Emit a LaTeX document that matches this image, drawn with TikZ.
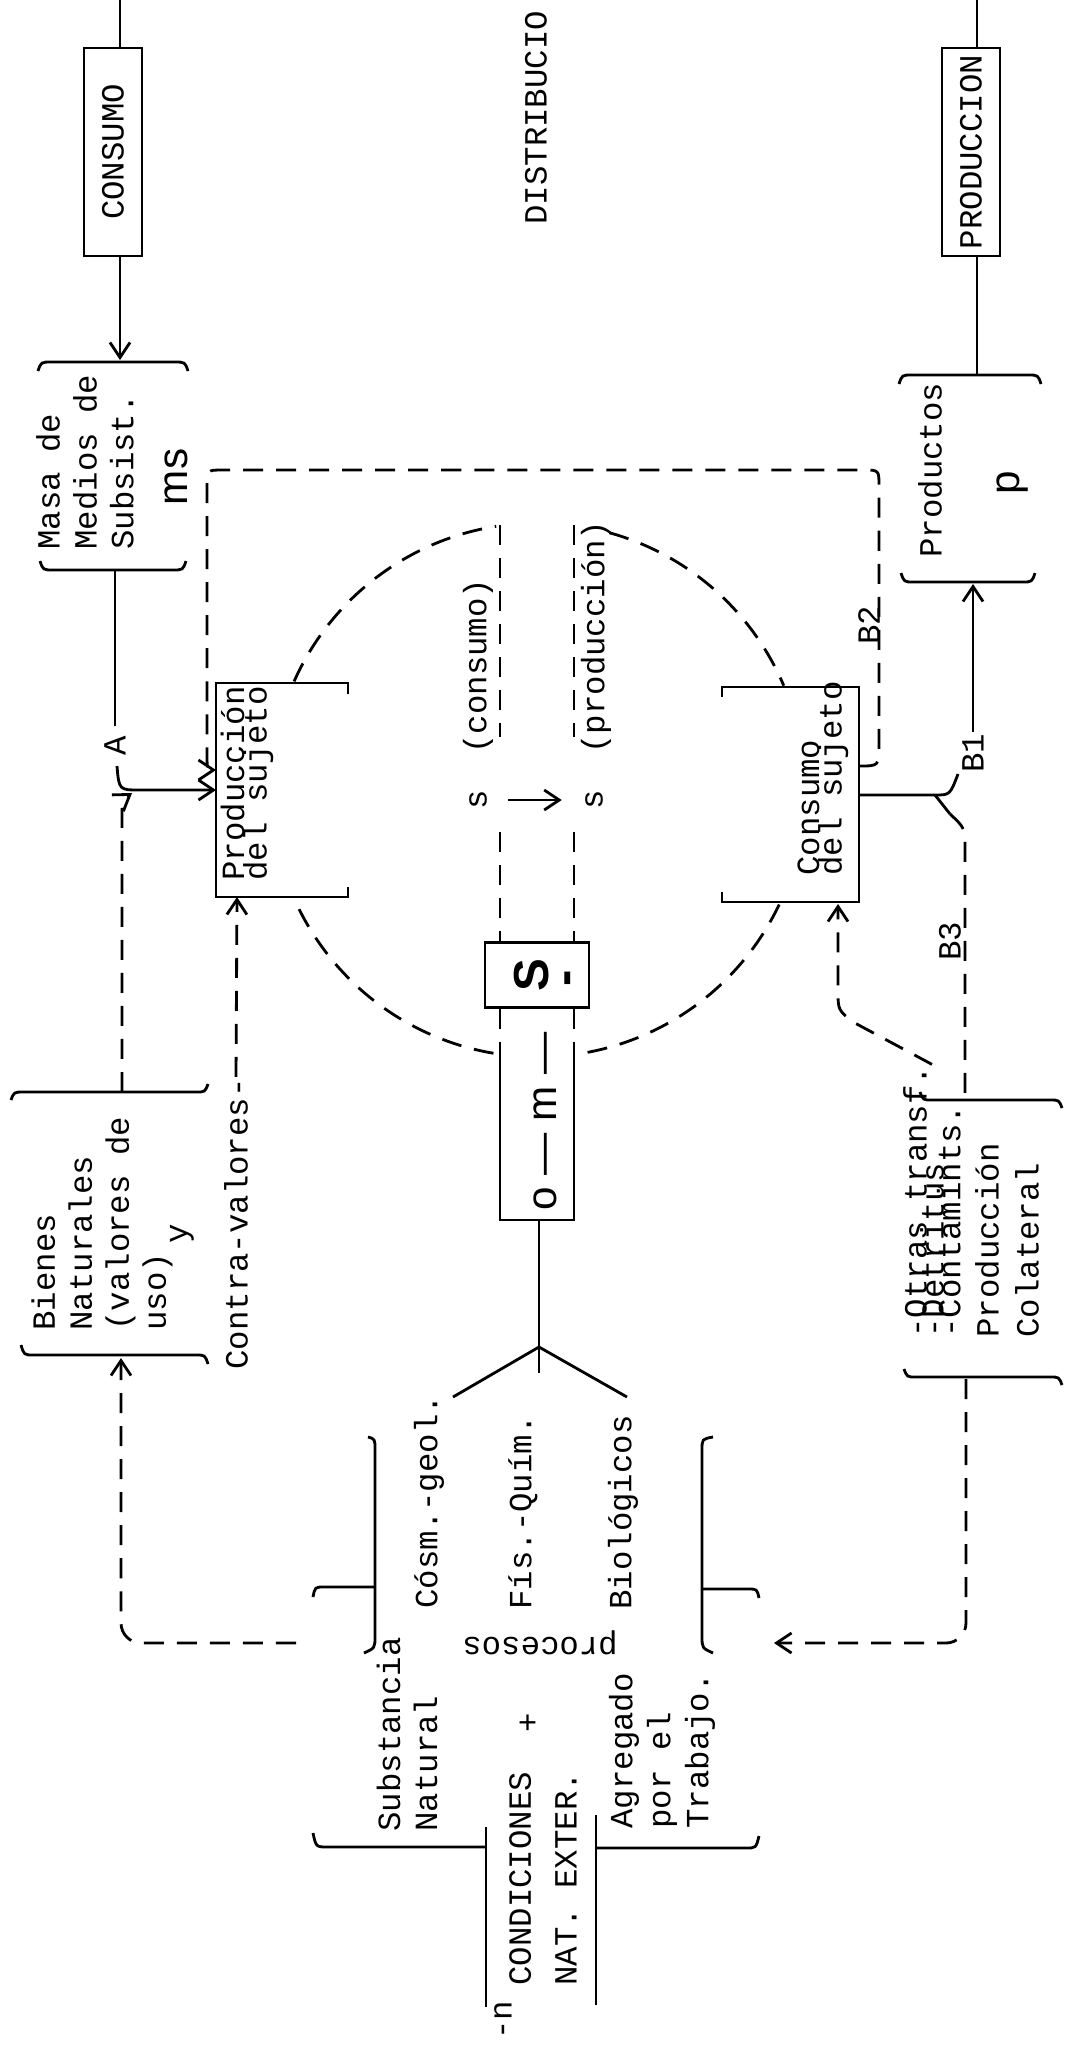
\documentclass[tikz,border=0pt]{standalone}
\usepackage{fontspec}
\setmonofont{Liberation Mono}
\newfontfamily\sansfam{Liberation Sans}
\usetikzlibrary{arrows.meta,positioning}

\begin{document}
\begin{tikzpicture}[x=0.01cm, y=-0.01cm, line width=0.8pt,
  tw/.style={font=\ttfamily\fontsize{9.2}{10.5}\selectfont},
  lbl/.style={tw, rotate=90, inner sep=0pt, anchor=west, align=left},
  tight/.style={lbl, font={\ttfamily\fontsize{9.2}{#1}\selectfont\lineskiplimit=-100pt}},
  letter/.style={rotate=90, inner sep=0pt, font=\sansfam\fontsize{12}{13}\selectfont},
  headbox/.style={tw, draw, rotate=90, inner sep=0pt, minimum width=2.08cm, minimum height=0.58cm},
  dline/.style={dash pattern=on 2mm off 1.3mm},
  arr/.style={-{Straight Barb[length=1.5mm,width=2mm]}},
]
\useasboundingbox (0,0) rectangle (1066,2045);

% top row
\node[headbox] (consumo) at (113,152) {CONSUMO};
\node[headbox] (produccion) at (971,152) {PRODUCCION};
\node[lbl] (distrib) at (536,226) {DISTRIBUCIO};
\coordinate (ctop) at (120,0);
\coordinate (ptop) at (977,0);
\coordinate (masatop) at (120,360);
\coordinate (prodtop) at (977,375);
\draw (ctop) -- (ctop |- consumo.east);
\draw[arr] (consumo.west -| ctop) -- (masatop);
\draw (ptop) -- (ptop |- produccion.east);
\draw (produccion.west -| ptop) -- (prodtop);

% masa de medios de subsistencia
\node[lbl] (masa) at (85,551) {Masa de\\Medios de\\Subsist.};
\node[letter] (ms) at (176,477) {ms};
\draw (38,371) .. controls (41,362) .. (52,362) -- (174,362) .. controls (185,362) .. (188,371);
\draw (40,561) .. controls (43,570) .. (54,570) -- (172,570) .. controls (183,570) .. (186,561);

% productos
\node[lbl] (productos) at (930,559) {Productos};
\node[letter] (p) at (1013,483) {p};
\draw (899,384) .. controls (902,375) .. (912,375) -- (1028,375) .. controls (1038,375) .. (1041,384);
\draw (901,573) .. controls (904,582) .. (914,582) -- (1022,582) .. controls (1032,582) .. (1035,573);

% produccion del sujeto
\draw (348,694) -- (348,683) -- (216,683) -- (216,897) -- (348,897) -- (348,887);
\node[tight=6.4] (psujeto) at (247,882) {Producción\\del sujeto};

% consumo del sujeto
\draw (722,697) -- (722,687) -- (859,687) -- (859,902) -- (722,902) -- (722,892);
\node[tight=6.4] (csujeto) at (823,877) {Consumo\\del sujeto};

% A: masa -> produccion
\coordinate (masabot) at (115,570);
\coordinate (aline) at (115,726);
\node[lbl, anchor=center] (A) at (115,746) {A};
\coordinate (hook) at (117,766);
\coordinate (pin1) at (216,790);
\draw (masabot) -- (aline);
\draw[arr] (hook) .. controls (119,790) .. (140,790) -- (pin1);
\coordinate (bienestop) at (122,1092);
\coordinate (junc) at (132,793);
\draw[dline, arr] (bienestop) -- (122,822) .. controls (122,800) .. (junc);

% B2 loop
\coordinate (cb2) at (859,766);
\coordinate (pin2) at (216,770);
\draw[dline, arr] (cb2) .. controls (879,766) .. (879,745) -- (879,486) .. controls (879,470) .. (863,470)
  -- (223,470) .. controls (207,470) .. (207,486) -- (207,750) .. controls (207,770) .. (pin2);
\node[lbl, anchor=center] (b2) at (869,625) {B2};

% bienes naturales
\node[lbl] (bienes) at (102,1332) {Bienes\\Naturales\\(valores de\\uso)};
\node[lbl, anchor=center] (yconj) at (182,1234) {y};
\draw (11,1100) .. controls (14,1092) .. (24,1092) -- (196,1092) .. controls (205,1092) .. (208,1084);
\draw (21,1345) .. controls (24,1355) .. (34,1355) -- (196,1355) .. controls (205,1355) .. (208,1364);
\node[lbl] (contra) at (236,1371) {Contra-valores-};
\coordinate (pin3) at (237,897);
\draw[dline, arr] (contra.east) -- (pin3);

% circle
\coordinate (ctr) at (538,790);
\draw[dline] (ctr) ++(204:267) arc[start angle=204, end angle=261, radius=267];
\draw[dline] (ctr) ++(285.5:267) arc[start angle=285.5, end angle=337, radius=267];
\draw[dline] (ctr) ++(25.4:267) arc[start angle=25.4, end angle=81.9, radius=267];
\draw[dline] (ctr) ++(99.6:267) arc[start angle=99.6, end angle=154.8, radius=267];

% s -> s
\node[lbl] (cons) at (478,755) {(consumo)};
\node[lbl] (prodn) at (596,755) {(producción)};
\node[lbl, anchor=center] (s1) at (478,800) {s};
\node[lbl, anchor=center] (s2) at (594,800) {s};
\draw[arr, shorten <=0.2cm, shorten >=0.22cm] (s1) -- (s2);

% S box and o-m
\node[draw, rotate=90, minimum width=0.65cm, minimum height=1.04cm, inner sep=0pt] (sbox) at (537,975) {};
\node[rotate=90, inner sep=0pt, font=\sansfam\bfseries\fontsize{14}{14}\selectfont] (S) at (532,975) {S};
\node[rotate=90, inner sep=0pt, font=\sansfam\bfseries\fontsize{14}{14}\selectfont] (sbar) at (573,978) {-};
\coordinate (colL) at (500,525);
\coordinate (colR) at (574,525);
\coordinate (lA) at (500,737);
\coordinate (lB) at (500,832);
\coordinate (rA) at (574,737);
\coordinate (rB) at (574,832);
\coordinate (omL) at (500,1053);
\coordinate (omR) at (574,1053);
\coordinate (omBL) at (500,1220);
\coordinate (omBR) at (574,1220);
\coordinate (omb) at (539,1220);
\draw[dline] (colL) -- (lA);
\draw[dline] (lB) -- (lB |- sbox.east);
\draw[dline] (colR) -- (rA);
\draw[dline] (rB) -- (rB |- sbox.east);
\draw[dline] (lB |- sbox.west) -- (omL);
\draw[dline] (rB |- sbox.west) -- (omR);
\draw (omL) -- (omBL) -- (omBR) -- (omR);
\node[letter, anchor=west] (om) at (545,1212) {o — m —};

% fork to procesos
\coordinate (fk) at (539,1347);
\coordinate (armL) at (453,1397);
\coordinate (armC) at (539,1373);
\coordinate (armR) at (627,1397);
\draw (omb) -- (fk) -- (armC);
\draw (armL) -- (fk) -- (armR);
\node[lbl] (cosm) at (429,1610) {Cósm.-geol.};
\node[lbl] (fisq) at (523,1611) {Fís.-Quím.};
\node[lbl] (biol) at (623,1611) {Biológicos};
\draw (368,1437) .. controls (375,1439) .. (375,1450) -- (375,1636) .. controls (375,1648) .. (364,1653);
\draw (375,1587) -- (324,1587) .. controls (315,1587) .. (313,1597);
\draw (713,1437) .. controls (702,1439) .. (702,1450) -- (702,1636) .. controls (702,1648) .. (713,1653);
\draw (702,1589) -- (748,1589) .. controls (757,1589) .. (759,1598);
\node[tw, inner sep=0pt, rotate=180] (procesos) at (540,1643) {procesos};

% dashed returns
\coordinate (lbrk) at (296,1643);
\coordinate (bienesbot) at (121,1358);
\draw[dline, arr, rounded corners=0.2cm] (lbrk) -| (bienesbot);
\coordinate (colbot) at (966,1379);
\coordinate (rbrk) at (774,1643);
\draw[dline, arr, rounded corners=0.2cm] (colbot) |- (rbrk);

% condiciones
\node[lbl, font=\ttfamily\fontsize{9.2}{13}\selectfont] (cond) at (543,1987) {CONDICIONES\\NAT. EXTER.};
\node[lbl, anchor=center] (nidx) at (503,2020) {-n};
\draw (486,1827) -- (486,2007);
\draw (596,1815) -- (596,2005);
\draw (313,1833) .. controls (316,1847) .. (328,1847) -- (486,1847);
\draw (596,1848) -- (746,1848) .. controls (756,1848) .. (759,1836);
\node[lbl, anchor=center] (plus) at (529,1723) {+};
\node[lbl] (subst) at (407,1833) {Substancia\\Natural};
\node[lbl, font=\ttfamily\fontsize{9.2}{10.8}\selectfont] (agreg) at (662,1830) {Agregado\\por el\\Trabajo.};

% produccion colateral
\draw (920,1092) .. controls (923,1100) .. (932,1100) -- (1050,1100) .. controls (1059,1100) .. (1062,1108);
\draw (904,1369) .. controls (907,1377) .. (916,1377) -- (1050,1377) .. controls (1059,1377) .. (1062,1385);
\node[tight=4.8] (otras) at (932,1339) {-Otras transf.\\-Detritus\\-Contamints.};
\node[lbl, font=\ttfamily\fontsize{9.2}{11.4}\selectfont] (pcol) at (1007,1339) {Producción\\Colateral};

% B1 and B3
\coordinate (coltop) at (965,1100);
\node[lbl, anchor=center] (b3) at (950,941) {B3};
\coordinate (cright) at (859,795);
\coordinate (fr) at (935,795);
\coordinate (fr3) at (950,814);
\coordinate (b1foot) at (958,774);
\node[lbl, anchor=center] (b1) at (973,753) {B1};
\coordinate (prodbot) at (973,584);
\draw (cright) -- (fr) .. controls (950,795) .. (b1foot);
\draw[arr] (b1.east) -- (prodbot);
\draw (fr) -- (fr3);
\draw[dline] (fr3) .. controls (965,828) .. (965,850) -- (coltop);
\coordinate (cbot) at (838,904);
\draw[dline, arr] (otras.east) -- (853,1022) .. controls (838,1010) .. (838,990) -- (cbot);
\end{tikzpicture}
\end{document}
